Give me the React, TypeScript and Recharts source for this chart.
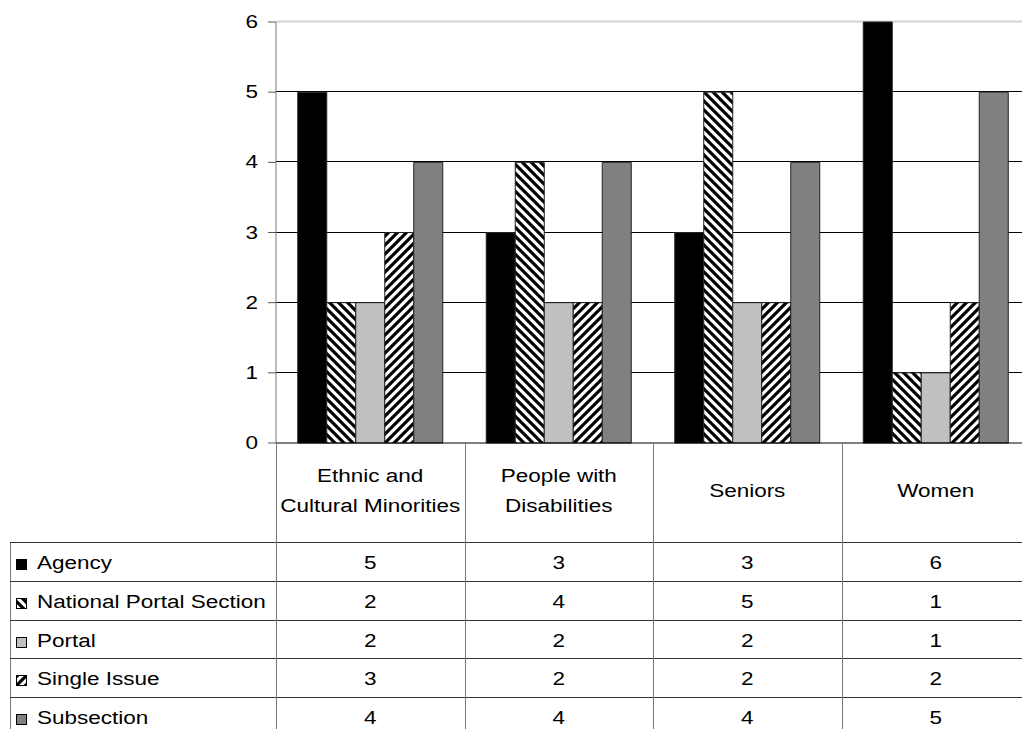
import React from 'react';
import { BarChart, Bar, XAxis, YAxis, CartesianGrid } from 'recharts';

const categories = ['Ethnic and Cultural Minorities', 'People with Disabilities', 'Seniors', 'Women'];
const categoryLines = [['Ethnic and', 'Cultural Minorities'], ['People with', 'Disabilities'], ['Seniors'], ['Women']];

const seriesNames = ['Agency', 'National Portal Section', 'Portal', 'Single Issue', 'Subsection'];
const agency = [5, 3, 3, 6];
const nationalPortalSection = [2, 4, 5, 1];
const portal = [2, 2, 2, 1];
const singleIssue = [3, 2, 2, 2];
const subsection = [4, 4, 4, 5];
const seriesValues = [agency, nationalPortalSection, portal, singleIssue, subsection];

const yTicks = [0, 1, 2, 3, 4, 5, 6];

const keys = ['agency', 'nationalPortalSection', 'portal', 'singleIssue', 'subsection'];
const fills = ['#000000', 'url(#hatchBack)', '#c0c0c0', 'url(#hatchFwd)', '#808080'];

const data = categories.map((name, i) => {
  const row: Record<string, string | number> = { name };
  keys.forEach((k, s) => (row[k] = seriesValues[s][i]));
  return row;
});

// layout
const W = 1040;
const H = 729;
const MARGIN = { top: 22, right: 10, left: 0, bottom: 0 };
const Y_AXIS_W = 276;
const X_AXIS_H = 286;
const PLOT_BOTTOM = H - X_AXIS_H;
const COL_W = (W - Y_AXIS_W - MARGIN.left - MARGIN.right) / categories.length;
const HEADER_H = 99;
const ROW_H = 38.75;
const TABLE_LEFT = 10;
const SX = 1.25; // text is drawn a bit wide
const FONT = '"Liberation Sans", Arial, sans-serif';
const LINE = '#333333';
const GRID_V = '#7a7a7a';

const Txt = ({ x, y, anchor = 'start', children }: any) => (
  <text
    transform={`translate(${x},${y}) scale(${SX},1)`}
    textAnchor={anchor}
    fontSize={18}
    fontFamily={FONT}
    fill="#000"
  >
    {children}
  </text>
);

const crisp = (v: number) => Math.round(v) + 0.5;

const YTick = ({ x, y, payload }: any) => (
  <Txt x={x} y={y + 6} anchor="end">
    {payload.value}
  </Txt>
);

// legend column with the series swatches and the row lines of the table
const LegendColumn = () => {
  const top = PLOT_BOTTOM + HEADER_H;
  return (
    <g>
      <line x1={crisp(TABLE_LEFT)} x2={crisp(TABLE_LEFT)} y1={top} y2={H} stroke={GRID_V} />
      {seriesNames.map((name, s) => {
        const rt = top + s * ROW_H;
        return (
          <g key={name}>
            <line x1={TABLE_LEFT} x2={W} y1={crisp(rt)} y2={crisp(rt)} stroke={LINE} />
            <rect x={16.5} y={Math.round(rt) + 17.5} width={10} height={10} fill={fills[s]} stroke="#000" />
            <Txt x={37} y={rt + 27}>{name}</Txt>
          </g>
        );
      })}
    </g>
  );
};

// one column of the table: category header plus the values of each series
const XTick = ({ x, index }: any) => {
  const left = x - COL_W / 2;
  const lines = categoryLines[index];
  const mid = PLOT_BOTTOM + 54;
  const top = PLOT_BOTTOM + HEADER_H;
  return (
    <g>
      {index === 0 && <LegendColumn />}
      <line x1={crisp(left)} x2={crisp(left)} y1={PLOT_BOTTOM} y2={H} stroke={GRID_V} />
      {index === categories.length - 1 && (
        <line x1={crisp(left + COL_W)} x2={crisp(left + COL_W)} y1={PLOT_BOTTOM} y2={H} stroke={GRID_V} />
      )}
      {lines.map((t, i) => (
        <Txt key={t} x={x} y={mid + (i - (lines.length - 1) / 2) * 30} anchor="middle">
          {t}
        </Txt>
      ))}
      {seriesValues.map((vals, s) => (
        <Txt key={s} x={x} y={top + s * ROW_H + 27} anchor="middle">
          {vals[index]}
        </Txt>
      ))}
    </g>
  );
};

const gridLine = (props: any) => {
  const { x1, x2, y1, y2 } = props;
  if (Math.abs(y1 - PLOT_BOTTOM) < 1) return <g key={props.key} />;
  const top = y1 < MARGIN.top + 1;
  return (
    <line
      key={props.key}
      x1={x1}
      x2={x2}
      y1={crisp(y1) - 1}
      y2={crisp(y2) - 1}
      stroke={top ? '#d4d4d4' : '#000'}
      strokeWidth={top ? 2 : 1}
    />
  );
};

export default function App() {
  return (
    <div style={{ position: 'absolute', left: 0, top: 0, width: 1022, height: H, overflow: 'hidden', background: '#fff' }}>
      <BarChart width={W} height={H} data={data} margin={MARGIN} barCategoryGap={21.75} barGap={0}>
        <defs>
          <pattern id="hatchBack" patternUnits="userSpaceOnUse" width={9} height={9}>
            <rect width={9} height={9} fill="#fff" />
            <path d="M-2.25,6.75 l4.5,4.5 M0,0 l9,9 M6.75,-2.25 l4.5,4.5" stroke="#000" strokeWidth={3.2} />
          </pattern>
          <pattern id="hatchFwd" patternUnits="userSpaceOnUse" width={9} height={9}>
            <rect width={9} height={9} fill="#fff" />
            <path d="M-2.25,2.25 l4.5,-4.5 M0,9 l9,-9 M6.75,11.25 l4.5,-4.5" stroke="#000" strokeWidth={3.2} />
          </pattern>
        </defs>
        <CartesianGrid vertical={false} horizontal={gridLine} />
        <YAxis
          type="number"
          domain={[0, 6]}
          ticks={yTicks}
          interval={0}
          width={Y_AXIS_W}
          axisLine={{ stroke: GRID_V }}
          tickLine={{ stroke: '#555' }}
          tickSize={8}
          tickMargin={10}
          tick={<YTick />}
        />
        <XAxis
          dataKey="name"
          height={X_AXIS_H}
          interval={0}
          axisLine={{ stroke: '#000' }}
          tickLine={false}
          tickSize={0}
          tickMargin={0}
          tick={<XTick />}
        />
        {keys.map((k, s) => (
          <Bar
            key={k}
            dataKey={k}
            name={seriesNames[s]}
            fill={fills[s]}
            stroke="#222"
            strokeWidth={1}
            isAnimationActive={false}
          />
        ))}
      </BarChart>
    </div>
  );
}
